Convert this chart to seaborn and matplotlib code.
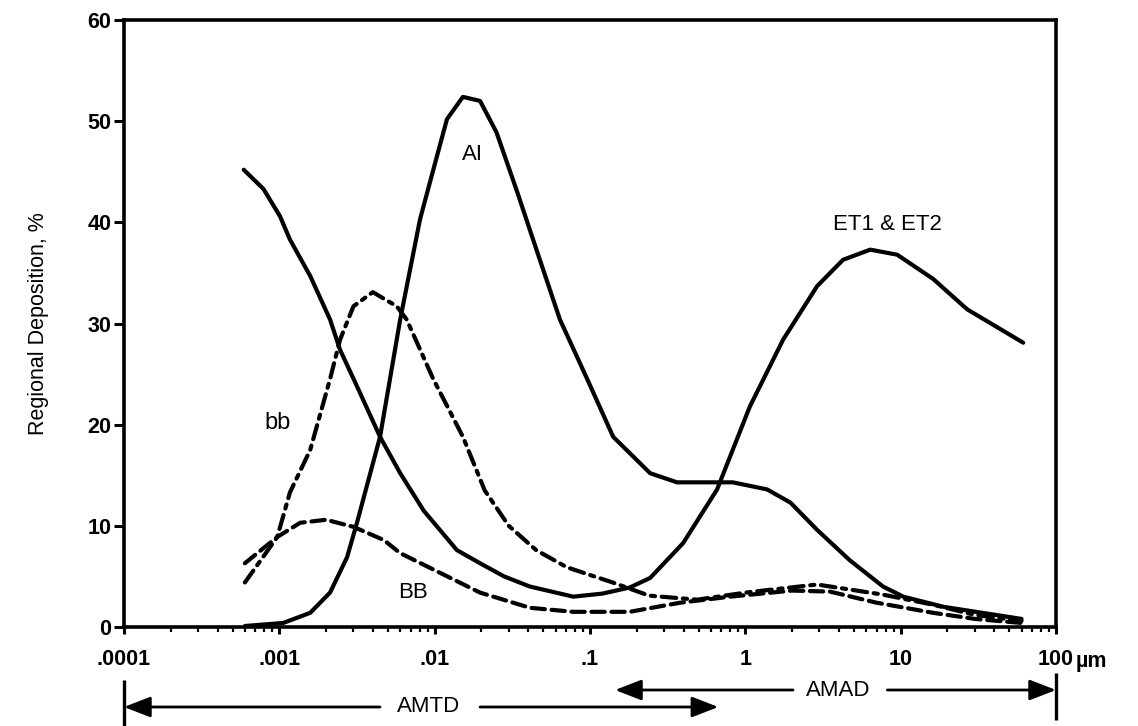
import numpy as np
import pandas as pd
import matplotlib
matplotlib.use("Agg")
import matplotlib.pyplot as plt
import matplotlib.transforms as mtransforms
from matplotlib.ticker import NullFormatter, LogLocator
import seaborn as sns

# ---- data ----
et_x = [0.00059, 0.00079, 0.00101, 0.00117, 0.00158, 0.00212, 0.00246, 0.00316, 0.00445,
        0.0060, 0.0085, 0.0139, 0.0196, 0.028, 0.041, 0.078, 0.12, 0.18, 0.244, 0.398, 0.658, 1.07,
        1.75, 2.9, 4.26, 6.37, 9.5, 16.2, 26.8, 61.5]
et_y = [45.2, 43.3, 40.6, 38.3, 34.7, 30.4, 27.4, 23.8, 18.8,
        15.2, 11.5, 7.6, 6.3, 5.0, 4.0, 3.0, 3.3, 3.9, 4.85, 8.3, 13.6, 21.8,
        28.4, 33.7, 36.3, 37.3, 36.8, 34.4, 31.4, 28.1]

ai_x = [0.0006, 0.00106, 0.00158, 0.00212, 0.00273, 0.00316, 0.00445, 0.006, 0.00805,
        0.0098, 0.012, 0.0152, 0.0196, 0.025, 0.034, 0.043, 0.064, 0.096, 0.141, 0.244,
        0.363, 0.83, 1.38, 1.95, 2.9, 4.7, 7.7, 10.4, 18.8, 60]
ai_y = [0.1, 0.4, 1.4, 3.4, 6.9, 10.3, 18.8, 30.4, 40.3,
        45.2, 50.2, 52.4, 52.0, 48.9, 43.0, 38.3, 30.4, 24.5, 18.8, 15.2,
        14.3, 14.3, 13.6, 12.3, 9.6, 6.6, 4.0, 3.0, 2.0, 0.8]

bb_small_x = [0.0006, 0.00097, 0.00117, 0.00158, 0.00212, 0.00246, 0.0030, 0.0040, 0.0057,
              0.0066, 0.0098, 0.0152, 0.021, 0.03, 0.045, 0.071, 0.14, 0.24, 0.49, 1.0,
              2.9, 7.7, 16.2, 30, 60]
bb_small_y = [4.4, 8.9, 13.3, 17.5, 24.5, 28.4, 31.7, 33.1, 31.7,
              30.4, 24.5, 18.8, 13.5, 10.0, 7.6, 5.9, 4.4, 3.1, 2.7, 3.4,
              4.2, 3.2, 2.2, 1.2, 0.6]

bb_big_x = [0.0006, 0.00097, 0.00136, 0.0020, 0.0030, 0.0047, 0.006, 0.0196, 0.041,
            0.078, 0.18, 0.38, 0.8, 2.0, 3.5, 7.0, 16.2, 30, 60]
bb_big_y = [6.3, 8.9, 10.3, 10.6, 9.9, 8.6, 7.3, 3.4, 1.9,
            1.5, 1.5, 2.4, 3.0, 3.6, 3.5, 2.4, 1.4, 0.8, 0.4]

x_ticks = [0.0001, 0.001, 0.01, 0.1, 1, 10, 100]
x_tick_labels = [".0001", ".001", ".01", ".1", "1", "10", "100"]
y_ticks = [0, 10, 20, 30, 40, 50, 60]

# ---- style ----
sns.set_style("white")
plt.rcParams["font.family"] = ["Liberation Sans", "DejaVu Sans"]
plt.rcParams["text.color"] = "black"
plt.rcParams["axes.labelcolor"] = "black"
plt.rcParams["xtick.color"] = "black"
plt.rcParams["ytick.color"] = "black"

fig = plt.figure(figsize=(11.38, 7.26), dpi=100)
W, H = 1138, 726
L, R, T, B = 124, 1056, 20, 627
ax = fig.add_axes([L / W, (H - B) / H, (R - L) / W, (B - T) / H])

df = pd.concat([
    pd.DataFrame({"x": et_x, "y": et_y, "curve": "ET"}),
    pd.DataFrame({"x": ai_x, "y": ai_y, "curve": "AI"}),
    pd.DataFrame({"x": bb_small_x, "y": bb_small_y, "curve": "bb"}),
    pd.DataFrame({"x": bb_big_x, "y": bb_big_y, "curve": "BB"}),
], ignore_index=True)

lw = 3.0
sns.lineplot(data=df[df.curve == "ET"], x="x", y="y", ax=ax, color="black", lw=lw,
             sort=False, estimator=None)
sns.lineplot(data=df[df.curve == "AI"], x="x", y="y", ax=ax, color="black", lw=lw,
             sort=False, estimator=None)
sns.lineplot(data=df[df.curve == "bb"], x="x", y="y", ax=ax, color="black", lw=lw,
             sort=False, estimator=None)
ax.lines[-1].set_dashes([3.5, 1.6, 1.0, 1.6])
sns.lineplot(data=df[df.curve == "BB"], x="x", y="y", ax=ax, color="black", lw=lw,
             sort=False, estimator=None)
ax.lines[-1].set_dashes([3.2, 1.6])
for ln in ax.lines:
    ln.set_solid_capstyle("round")
    ln.set_solid_joinstyle("round")
    ln.set_dash_capstyle("round")

ax.set_xscale("log")
ax.set_xlim(1e-4, 100)
ax.set_ylim(0, 60)

ax.set_xticks(x_ticks)
ax.set_xticklabels(x_tick_labels)
ax.xaxis.set_minor_locator(LogLocator(base=10, subs=np.arange(2, 10), numticks=100))
ax.xaxis.set_minor_formatter(NullFormatter())
ax.set_yticks(y_ticks)

for s in ax.spines.values():
    s.set_linewidth(2.6)
    s.set_color("black")

ax.tick_params(axis="x", which="major", direction="out", length=5, width=2.2,
               pad=11, labelsize=15.5, bottom=True)
ax.tick_params(axis="x", which="minor", direction="out", length=3.5, width=1.6, bottom=True)
ax.tick_params(axis="y", which="major", direction="out", length=7, width=2.2,
               pad=2, labelsize=15.5, left=True)
for lab in ax.get_xticklabels() + ax.get_yticklabels():
    lab.set_fontweight("bold")

ax.set_xlabel("")
ax.set_ylabel("Regional Deposition, %", fontsize=15.5, labelpad=28)

# "µm" unit after 100
ax.annotate("µm", xy=(100, 0), xycoords="data", xytext=(14, -17),
            textcoords="offset points", fontsize=15.5, fontweight="bold",
            ha="left", va="top")

# curve labels
ax.text(0.0174, 46.7, "AI", fontsize=16, ha="center", va="center")
ax.text(8.2, 39.8, "ET1 & ET2", fontsize=16, ha="center", va="center")
ax.text(0.00098, 20.2, "bb", fontsize=17, ha="center", va="center")
ax.text(0.00726, 3.4, "BB", fontsize=16, ha="center", va="center")

# AMTD / AMAD range arrows below the axis
trans = mtransforms.blended_transform_factory(ax.transData, ax.transAxes)

def fy(py):
    return (B - py) / (B - T)

arrow_kw = dict(arrowstyle="-|>,head_length=0.9,head_width=0.35", color="black",
                lw=2.0, mutation_scale=18, shrinkA=0, shrinkB=0)

# AMTD
y1 = fy(707)
ax.plot([1e-4, 1e-4], [fy(680), fy(726)], transform=trans, color="black", lw=2.4,
        clip_on=False, solid_capstyle="butt")
ax.annotate("", xy=(1e-4, y1), xycoords=trans, xytext=(0.00445, y1), textcoords=trans,
            arrowprops=arrow_kw, annotation_clip=False)
ax.text(0.0091, y1, "AMTD", transform=trans, fontsize=16, ha="center", va="center")
ax.annotate("", xy=(0.67, y1), xycoords=trans, xytext=(0.0196, y1), textcoords=trans,
            arrowprops=arrow_kw, annotation_clip=False)

# AMAD
y2 = fy(690)
ax.plot([100, 100], [fy(673), fy(720)], transform=trans, color="black", lw=2.4,
        clip_on=False, solid_capstyle="butt")
ax.annotate("", xy=(0.145, y2), xycoords=trans, xytext=(2.03, y2), textcoords=trans,
            arrowprops=arrow_kw, annotation_clip=False)
ax.text(3.96, y2, "AMAD", transform=trans, fontsize=16, ha="center", va="center")
ax.annotate("", xy=(100, y2), xycoords=trans, xytext=(8.2, y2), textcoords=trans,
            arrowprops=arrow_kw, annotation_clip=False)

fig.savefig("out.png", dpi=100, facecolor="white")
